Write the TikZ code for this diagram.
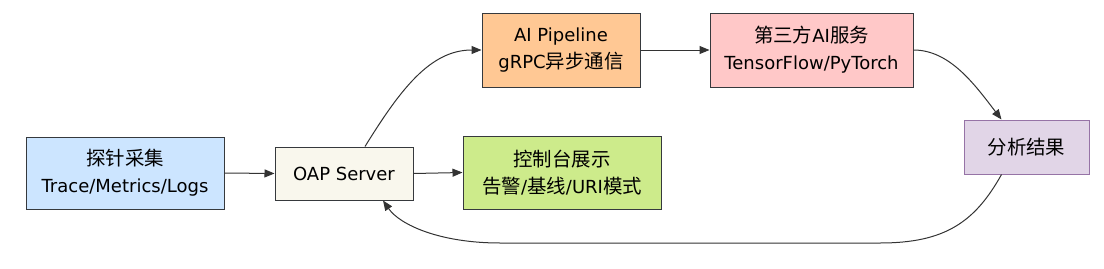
\documentclass[tikz,border=0pt]{standalone}
\usepackage{fontspec}
\setmainfont{DejaVu Sans}
\newfontfamily\cjk[Scale=1.08]{Noto Sans CJK SC}
\usetikzlibrary{arrows.meta,calc}
\definecolor{bdr}{HTML}{36393D}
\definecolor{edge}{HTML}{333333}
\definecolor{cblue}{HTML}{CCE5FF}
\definecolor{cbeige}{HTML}{F9F7ED}
\definecolor{cgreen}{HTML}{CDEB8B}
\definecolor{corange}{HTML}{FFC894}
\definecolor{cpink}{HTML}{FFC8C8}
\definecolor{cpurple}{HTML}{E1D5E7}
\definecolor{bpurple}{HTML}{9673A6}
\tikzset{
  box/.style={draw=bdr, line width=1pt, align=center, inner sep=0pt,
    font=\fontsize{18}{27}\selectfont, text=black},
  conn/.style={draw=edge, line width=1pt, -{Triangle[length=10pt,width=8pt]}},
}
\begin{document}
\begin{tikzpicture}[x=1pt,y=-1pt]
\useasboundingbox (0,0) rectangle (1104,268);
\node[box, fill=cblue, minimum width=198pt, minimum height=72pt] (probe) at (125,173) {{\cjk 探针采集}\\Trace/Metrics/Logs};
\node[box, fill=cbeige, minimum width=138pt, minimum height=53pt] (oap) at (344,173.5) {OAP Server};
\node[box, fill=cgreen, minimum width=198pt, minimum height=73pt] (ctrl) at (562,172.5) {{\cjk 控制台展示}\\{\cjk 告警}/{\cjk 基线}/URI{\cjk 模式}};
\node[box, fill=corange, minimum width=158pt, minimum height=74pt] (aip) at (561,50) {AI Pipeline\\gRPC{\cjk 异步通信}};
\node[box, fill=cpink, minimum width=203pt, minimum height=74pt] (third) at (811.5,50) {{\cjk 第三方}AI{\cjk 服务}\\TensorFlow/PyTorch};
\node[box, draw=bpurple, fill=cpurple, minimum width=125pt, minimum height=54pt] (res) at (1026.5,147) {{\cjk 分析结果}};
\draw[conn] (probe.east) -- (oap.west);
\draw[conn] (oap.east) -- (ctrl.west);
\draw[conn] (aip.east) -- (third.west);
\draw[conn] ($(oap.north)+(21,0)$) .. controls (400,90) and (430,50) .. (aip.west);
\draw[conn] (third.east) .. controls (950,50) and (975,85) .. ($(res.north)+(-25,0)$);
\draw[conn] ($(res.south)+(-25,0)$) .. controls (975,222) and (945,243) .. (880,243) -- (500,243) .. controls (440,243) and (400,225) .. ($(oap.south)+(39,0)$);
\end{tikzpicture}
\end{document}
